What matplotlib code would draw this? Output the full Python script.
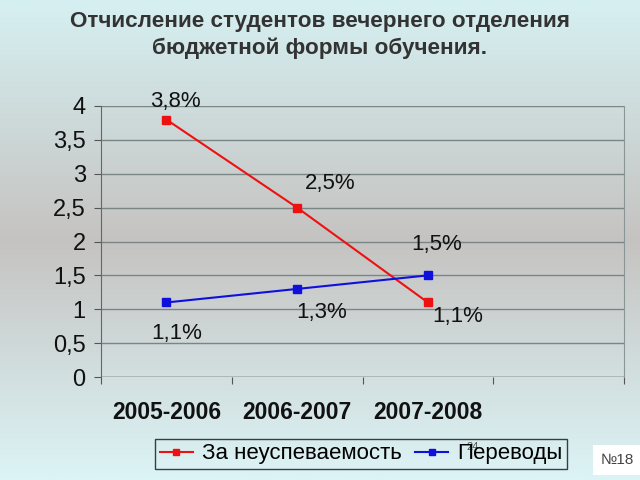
import numpy as np
import matplotlib.pyplot as plt
from matplotlib.colors import LinearSegmentedColormap

plt.rcParams['font.family'] = ['Liberation Sans', 'DejaVu Sans']

title = 'Отчисление студентов вечернего отделения\nбюджетной формы обучения.'
years = ['2005-2006', '2006-2007', '2007-2008']
failing = [3.8, 2.5, 1.1]
transfers = [1.1, 1.3, 1.5]
series_names = ['За неуспеваемость', 'Переводы']
yticks = [0, 0.5, 1, 1.5, 2, 2.5, 3, 3.5, 4]

fig = plt.figure(figsize=(6.4, 4.8), dpi=100)

# background gradient: cyan at top/bottom, grey in the middle
bg = fig.add_axes([0, 0, 1, 1], zorder=-10)
cmap = LinearSegmentedColormap.from_list(
    'bg', [(0.0, '#d6f0f2'), (0.5, '#c5c3c1'), (1.0, '#dcf4f6')])
grad = np.linspace(0, 1, 256).reshape(-1, 1)
bg.imshow(grad, aspect='auto', cmap=cmap, extent=[0, 1, 0, 1])
bg.set_axis_off()

ax = fig.add_axes([101 / 640, 103 / 480, 523 / 640, 271 / 480])
ax.patch.set_alpha(0)

x = np.arange(len(years)) + 0.5
ax.plot(x, failing, color='#ee1111', lw=1.5, marker='s', ms=6,
        label=series_names[0], zorder=3)
ax.plot(x, transfers, color='#1010dd', lw=1.5, marker='s', ms=6,
        label=series_names[1], zorder=3)

def pct(v):
    return f'{v:.1f}%'.replace('.', ',')

red_off = [(9, 18), (33, 24), (30, -14)]
blue_off = [(10, -31), (25, -24), (9, 31)]
for xi, v, off in zip(x, failing, red_off):
    ax.annotate(pct(v), (xi, v), xytext=off, textcoords='offset pixels',
                ha='center', va='center', fontsize=16, color='#111111')
for xi, v, off in zip(x, transfers, blue_off):
    ax.annotate(pct(v), (xi, v), xytext=off, textcoords='offset pixels',
                ha='center', va='center', fontsize=16, color='#111111')

ax.set_xlim(0, 4)
ax.set_ylim(0, 4)
ax.set_yticks(yticks)
ax.set_yticklabels([f'{t:g}'.replace('.', ',') for t in yticks],
                   fontsize=17, color='#111111')
ax.set_xticks(range(5))
ax.set_xticklabels([])
ax.set_xticks(x, minor=True)
ax.set_xticklabels(years, minor=True, fontsize=16.5, fontweight='bold',
                   color='#111111')
ax.tick_params(axis='x', which='minor', length=0, pad=17)
ax.tick_params(axis='both', which='major', length=5, color='#555555',
               direction='out')
ax.tick_params(axis='y', pad=6)

ax.grid(axis='y', color='#7a8585', lw=1)
for s in ['top', 'bottom']:
    ax.spines[s].set_visible(False)
ax.spines['left'].set_color('#666666')
ax.spines['right'].set_color('#8a9595')
ax.axhline(0, color='#666666', lw=1, zorder=2)

fig.text(0.5, 1 - 35 / 480, title, ha='center', va='center',
         fontsize=16.2, fontweight='bold', color='#333333', linespacing=1.35)

leg = fig.legend(loc='center', bbox_to_anchor=(361 / 640, 1 - 454 / 480),
                 ncol=2, fontsize=16, frameon=True, fancybox=False,
                 handlelength=1.5, handletextpad=0.4, columnspacing=0.6,
                 borderpad=0.2, markerscale=0.7)
leg.get_frame().set_edgecolor('#111111')
leg.get_frame().set_facecolor('none')
leg.get_frame().set_linewidth(1)

fig.text(473 / 640, 1 - 447 / 480, '24', fontsize=8, color='#555555',
         ha='center', va='center')
fig.text(617 / 640, 1 - 460 / 480, '№18', fontsize=11, color='#444444',
         ha='center', va='center',
         bbox=dict(boxstyle='square,pad=0.5', facecolor='white',
                   edgecolor='none'))

fig.savefig('out.png', dpi=100)
